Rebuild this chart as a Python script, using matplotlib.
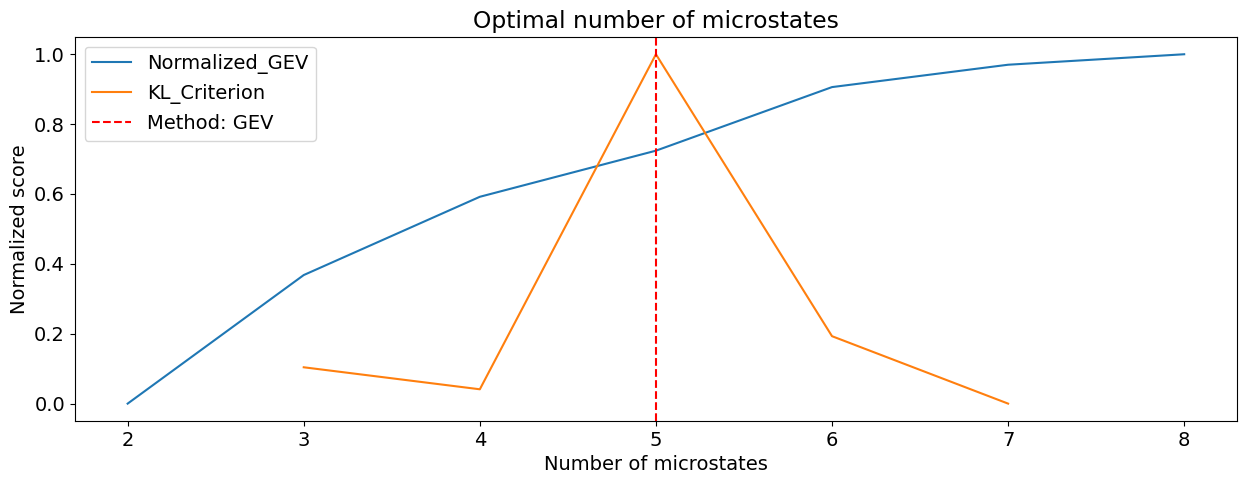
import matplotlib
matplotlib.use("Agg")
import matplotlib.pyplot as plt

n_states_gev = [2, 3, 4, 5, 6, 7, 8]
normalized_gev = [0.0, 0.368, 0.592, 0.724, 0.906, 0.970, 1.0]
n_states_kl = [3, 4, 5, 6, 7]
kl_criterion = [0.104, 0.041, 1.0, 0.193, 0.0]
optimal_k = 5

plt.rcParams['font.size'] = 14
fig = plt.figure(figsize=(12.47, 4.84), dpi=100)
ax = fig.add_axes([0.060, 0.130, 0.932, 0.794])
ax.plot(n_states_gev, normalized_gev, color='#1f77b4', label='Normalized_GEV')
ax.plot(n_states_kl, kl_criterion, color='#ff7f0e', label='KL_Criterion')
ax.axvline(optimal_k, color='red', linestyle='--', label='Method: GEV')
ax.set_xlabel('Number of microstates')
ax.set_ylabel('Normalized score')
ax.set_title('Optimal number of microstates')
ax.legend(loc='upper left')
fig.savefig('out.png', dpi=100)
